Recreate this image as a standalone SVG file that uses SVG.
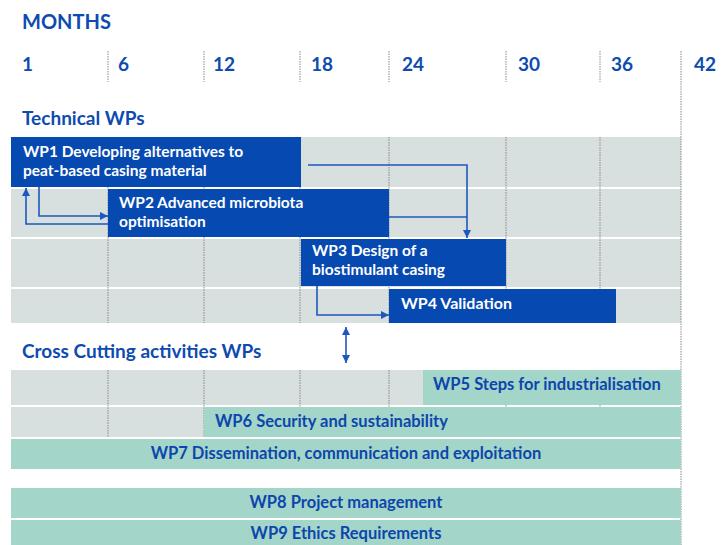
<svg xmlns="http://www.w3.org/2000/svg" width="726" height="545" viewBox="0 0 726 545">
<style>
text{font-family:Lato,"Noto Sans","Liberation Sans",sans-serif;font-weight:bold}
.hd{fill:#0e4bb0}
.title{font-size:20px}
.num{font-size:19px}
.sec{font-size:19px}
.row{fill:#d7dfdf}
.wpb{fill:#0549b1}
.wpt{fill:#a3d5c8}
.wt{fill:#ffffff;font-size:16px}
.wt2{fill:#ffffff;font-size:15.5px}
.bt{fill:#0c46ad;font-size:16.5px}
.dash{stroke:#8a8a8a;stroke-width:1;stroke-dasharray:1.5 1;fill:none}
.con{stroke:#1f58bd;stroke-width:1.6;fill:none}
</style>
<defs>
<marker id="ah" viewBox="0 0 10 10" refX="10" refY="5" markerWidth="8" markerHeight="8" markerUnits="userSpaceOnUse" orient="auto-start-reverse">
<path d="M0,0 L10,5 L0,10 z" fill="#1f58bd"/>
</marker>
</defs>
<rect width="726" height="545" fill="#ffffff"/>
<g id="header">
<text class="hd title" x="22" y="29">MONTHS</text>
<text class="hd num" x="22" y="71">1</text>
<text class="hd num" x="118" y="71">6</text>
<text class="hd num" x="213" y="71">12</text>
<text class="hd num" x="311" y="71">18</text>
<text class="hd num" x="402" y="71">24</text>
<text class="hd num" x="518" y="71">30</text>
<text class="hd num" x="611" y="71">36</text>
<text class="hd num" x="694" y="71">42</text>
<path class="dash" d="M108,51V82M204,51V82M300,51V82M389,51V82M506,51V82M600,51V82"/>
<text class="hd sec" x="22" y="125">Technical WPs</text>
<text class="hd sec" x="22" y="358">Cross Cutting activities WPs</text>
</g>
<g id="rows">
<rect class="row" x="11" y="137" width="670" height="50"/>
<rect class="row" x="11" y="189" width="670" height="48"/>
<rect class="row" x="11" y="239" width="670" height="48"/>
<rect class="row" x="11" y="289" width="670" height="34"/>
<rect class="row" x="11" y="370" width="670" height="35"/>
<rect class="row" x="11" y="407" width="670" height="30"/>
<path class="dash" d="M108,137V323M204,137V323M300,137V323M389,137V323M506,137V323M600,137V323M108,370V437M204,370V437M300,370V437M389,370V437M506,370V437M600,370V437"/>
<path class="dash" d="M681,51V545"/>
</g>
<g id="wp1">
<rect class="wpb" x="11" y="137" width="290" height="50"/>
<text class="wt2" x="23" y="157">WP1 Developing alternatives to</text>
<text class="wt2" x="23" y="175.5">peat-based casing material</text>
</g>
<g id="wp2">
<rect class="wpb" x="108" y="189" width="281" height="48"/>
<text class="wt2" x="119" y="208">WP2 Advanced microbiota</text>
<text class="wt2" x="119" y="226.5">optimisation</text>
</g>
<g id="wp3">
<rect class="wpb" x="301" y="239" width="205" height="47"/>
<text class="wt2" x="312" y="256">WP3 Design of a</text>
<text class="wt2" x="312" y="274.5">biostimulant casing</text>
</g>
<g id="wp4">
<rect class="wpb" x="389" y="289" width="227" height="34"/>
<text class="wt" x="401" y="309">WP4 Validation</text>
</g>
<g id="wp5">
<rect class="wpt" x="423" y="370" width="258" height="35"/>
<text class="bt" x="433" y="390">WP5 Steps for industrialisation</text>
</g>
<g id="wp6">
<rect class="wpt" x="204" y="407" width="477" height="30"/>
<text class="bt" x="215" y="427">WP6 Security and sustainability</text>
</g>
<g id="wp7">
<rect class="wpt" x="11" y="439" width="670" height="30"/>
<text class="bt" x="346" y="459" text-anchor="middle">WP7 Dissemination, communication and exploitation</text>
</g>
<g id="wp8">
<rect class="wpt" x="11" y="488" width="670" height="30"/>
<text class="bt" x="346" y="508" text-anchor="middle">WP8 Project management</text>
</g>
<g id="wp9">
<rect class="wpt" x="11" y="520" width="670" height="25"/>
<text class="bt" x="346" y="539" text-anchor="middle">WP9 Ethics Requirements</text>
</g>
<g id="connectors">
<path class="con" d="M39,187V216H108" marker-end="url(#ah)"/>
<path class="con" d="M108,224H26V188" marker-end="url(#ah)"/>
<path class="con" d="M308,165H467V238" marker-end="url(#ah)"/>
<path class="con" d="M389,217H467"/>
<path class="con" d="M317,286V315H389" marker-end="url(#ah)"/>
<path class="con" d="M346,327V363" marker-start="url(#ah)" marker-end="url(#ah)"/>
</g>
</svg>
